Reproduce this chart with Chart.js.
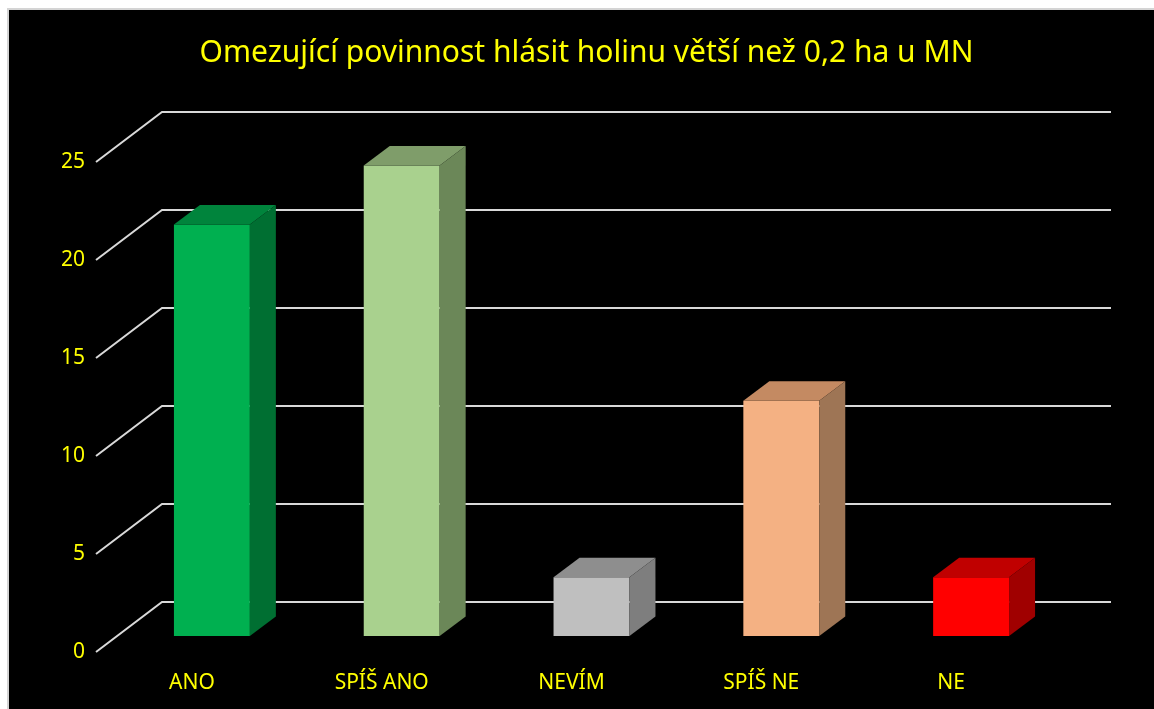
<!DOCTYPE html>
<html lang="cs">
<head>
    <meta charset="UTF-8">
    <title>Omezující povinnost hlásit holinu</title>
    <script src="https://cdn.jsdelivr.net/npm/chart.js"></script>
    <style>
        body { margin: 0; background: #fff; overflow: hidden; }
        .frame {
            position: absolute; left: 7px; top: 8px;
            width: 1145px; height: 699px;
            border: 2px solid #d4d4d4; background: #000;
        }
        canvas { display: block; }
    </style>
</head>
<body>
    <div class="frame"><canvas id="chart" width="1145" height="699"></canvas></div>

    <script>
        // data
        const categories = ['ANO', 'SPÍŠ ANO', 'NEVÍM', 'SPÍŠ NE', 'NE'];
        const values = [21, 24, 3, 12, 3];
        const frontColors = ['#00B050', '#A9D18E', '#BFBFBF', '#F4B183', '#FF0000'];
        const topColors = ['#00843C', '#7F9D6A', '#8E8E8E', '#C48A62', '#C00000'];
        const sideColors = ['#006F32', '#6B8758', '#7E7E7E', '#9E7555', '#A00000'];
        const yTicks = [0, 5, 10, 15, 20, 25];

        // depth offsets of the fake 3d
        const barDepth = { dx: 26, dy: -19.5 };
        const wallBack = { dx: 45, dy: -34 };
        const wallFront = { dx: -21, dy: 16 };

        const fake3d = {
            id: 'fake3d',
            beforeDatasetsDraw(chart) {
                const { ctx, chartArea, scales } = chart;
                ctx.save();
                ctx.strokeStyle = '#d9d9d9';
                ctx.lineWidth = 2;
                yTicks.forEach(v => {
                    const y = scales.y.getPixelForValue(v);
                    ctx.beginPath();
                    ctx.moveTo(chartArea.left + wallFront.dx, y + wallFront.dy);
                    ctx.lineTo(chartArea.left + wallBack.dx, y + wallBack.dy);
                    ctx.lineTo(chartArea.right + wallBack.dx, y + wallBack.dy);
                    ctx.stroke();
                });
                ctx.restore();
            },
            afterDatasetsDraw(chart) {
                const { ctx } = chart;
                const meta = chart.getDatasetMeta(0);
                ctx.save();
                meta.data.forEach((bar, i) => {
                    const p = bar.getProps(['x', 'y', 'base', 'width'], true);
                    const l = p.x - p.width / 2, r = p.x + p.width / 2;
                    // top face
                    ctx.fillStyle = topColors[i];
                    ctx.beginPath();
                    ctx.moveTo(l, p.y);
                    ctx.lineTo(l + barDepth.dx, p.y + barDepth.dy);
                    ctx.lineTo(r + barDepth.dx, p.y + barDepth.dy);
                    ctx.lineTo(r, p.y);
                    ctx.closePath();
                    ctx.fill();
                    // side face
                    ctx.fillStyle = sideColors[i];
                    ctx.beginPath();
                    ctx.moveTo(r, p.y);
                    ctx.lineTo(r + barDepth.dx, p.y + barDepth.dy);
                    ctx.lineTo(r + barDepth.dx, p.base + barDepth.dy);
                    ctx.lineTo(r, p.base);
                    ctx.closePath();
                    ctx.fill();
                });
                ctx.restore();
            }
        };

        new Chart(document.getElementById('chart'), {
            type: 'bar',
            data: {
                labels: categories,
                datasets: [{
                    data: values,
                    backgroundColor: frontColors,
                    borderWidth: 0,
                    categoryPercentage: 1,
                    barPercentage: 0.4
                }]
            },
            options: {
                responsive: false,
                animation: false,
                layout: { padding: { left: 10, right: 0, top: 0, bottom: 0 } },
                plugins: {
                    legend: { display: false },
                    tooltip: { enabled: false },
                    title: {
                        display: true,
                        text: 'Omezující povinnost hlásit holinu větší než 0,2 ha u MN',
                        color: '#FFFF00',
                        font: { family: 'Noto Sans', size: 30, weight: 'normal', lineHeight: 1.2 },
                        padding: { top: 25, bottom: 75 }
                    }
                },
                scales: {
                    x: {
                        grid: { display: false, drawTicks: false },
                        border: { display: false },
                        ticks: {
                            color: '#FFFF00', labelOffset: -20, padding: 34, maxRotation: 0,
                            font: { family: 'Noto Sans', size: 21 }
                        },
                        afterFit(scale) { scale.height = 73; }
                    },
                    y: {
                        min: 0, max: 25,
                        grid: { display: false, drawTicks: false },
                        border: { display: false },
                        ticks: {
                            stepSize: 5, color: '#FFFF00', labelOffset: 16, padding: 32,
                            font: { family: 'Noto Sans', size: 21 }
                        },
                        afterFit(scale) { scale.width = 98; }
                    },
                    // empty right axis, only keeps room for the 3d back wall
                    yRight: {
                        position: 'right',
                        min: 0, max: 25,
                        grid: { display: false, drawTicks: false },
                        border: { display: false },
                        ticks: { display: false },
                        afterFit(scale) { scale.width = 88; }
                    }
                }
            },
            plugins: [fake3d]
        });
    </script>
</body>
</html>
